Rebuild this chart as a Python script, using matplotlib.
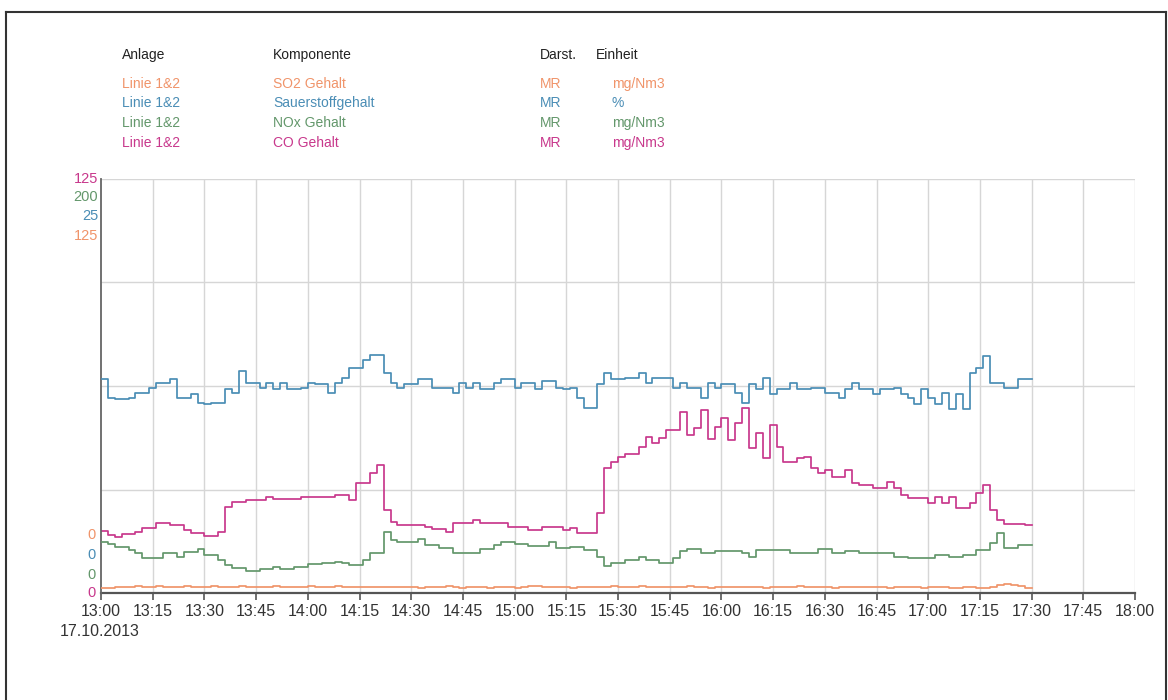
import numpy as np
import matplotlib
matplotlib.use("Agg")
import matplotlib.pyplot as plt
from matplotlib.lines import Line2D

plt.rcParams['font.family'] = ['Liberation Sans', 'DejaVu Sans']

# ---- time axis: minutes after 13:00, one reading every 2 minutes ----
minutes = np.arange(0, 271, 2)
tick_minutes = list(range(0, 301, 15))
tick_labels = ["13:00", "13:15", "13:30", "13:45", "14:00", "14:15", "14:30",
               "14:45", "15:00", "15:15", "15:30", "15:45", "16:00", "16:15",
               "16:30", "16:45", "17:00", "17:15", "17:30", "17:45", "18:00"]
date_label = "17.10.2013"

# ---- series ----
names = ["SO2 Gehalt", "Sauerstoffgehalt", "NOx Gehalt", "CO Gehalt"]
units = ["mg/Nm3", "%", "mg/Nm3", "mg/Nm3"]
scale_max = [125, 25, 200, 125]

so2 = [1.5, 1.5, 1.8, 1.8, 1.8, 2.2, 1.8, 1.8, 2.2, 1.8,
       1.8, 1.8, 2.2, 1.8, 1.8, 1.8, 2.2, 1.8, 1.8, 1.8,
       2.2, 1.8, 1.8, 1.8, 1.8, 2.2, 1.8, 1.8, 1.8, 1.8,
       2.2, 1.8, 1.8, 1.8, 2.2, 1.8, 1.8, 1.8, 1.8, 1.8,
       1.8, 1.8, 1.8, 1.8, 1.8, 1.8, 1.5, 1.8, 1.8, 1.8,
       2.2, 1.8, 1.5, 1.8, 1.8, 1.8, 1.5, 1.8, 1.8, 1.8,
       1.5, 1.8, 2.0, 2.0, 1.8, 1.8, 1.8, 1.8, 1.5, 1.8,
       1.8, 1.8, 1.8, 1.8, 2.2, 1.8, 1.8, 1.8, 2.2, 1.8,
       1.8, 1.8, 1.8, 1.8, 1.8, 2.2, 1.8, 1.8, 1.5, 1.8,
       1.8, 1.8, 1.8, 1.8, 1.8, 1.8, 1.5, 1.8, 1.8, 1.8,
       1.8, 2.0, 1.8, 1.8, 1.8, 1.8, 1.5, 1.8, 1.8, 1.8,
       1.8, 1.8, 1.8, 1.8, 1.5, 1.8, 1.8, 1.8, 1.8, 1.5,
       1.8, 1.8, 1.8, 1.5, 1.5, 1.8, 1.8, 1.5, 1.5, 1.8,
       2.4, 2.8, 2.4, 2.0, 1.5, 1.5]

o2 = [12.9, 11.8, 11.7, 11.7, 11.8, 12.1, 12.1, 12.4, 12.7, 12.7,
      12.9, 11.8, 11.8, 12.0, 11.5, 11.4, 11.5, 11.5, 12.3, 12.1,
      13.4, 12.7, 12.7, 12.4, 12.7, 12.3, 12.7, 12.3, 12.3, 12.4,
      12.7, 12.6, 12.6, 12.1, 12.7, 13.0, 13.6, 13.6, 14.1, 14.4,
      14.4, 13.3, 12.7, 12.4, 12.6, 12.6, 12.9, 12.9, 12.4, 12.4,
      12.4, 12.1, 12.7, 12.4, 12.7, 12.3, 12.3, 12.7, 12.9, 12.9,
      12.4, 12.7, 12.7, 12.3, 12.8, 12.8, 12.4, 12.3, 12.4, 11.8,
      11.2, 11.2, 12.6, 13.3, 12.9, 12.9, 13.0, 13.0, 13.3, 12.7,
      13.0, 13.0, 13.0, 12.4, 12.7, 12.4, 12.4, 11.8, 12.7, 12.4,
      12.6, 12.6, 12.1, 11.5, 12.6, 12.3, 13.0, 12.0, 12.3, 12.3,
      12.7, 12.3, 12.3, 12.4, 12.4, 12.1, 12.1, 11.8, 12.3, 12.7,
      12.3, 12.3, 12.0, 12.3, 12.3, 12.4, 12.0, 11.8, 11.4, 12.3,
      11.8, 11.4, 12.1, 11.1, 12.0, 11.1, 13.3, 13.6, 14.3, 12.7,
      12.7, 12.4, 12.4, 12.9, 12.9, 12.9]

nox = [24.8, 23.7, 22.1, 22.1, 20.8, 19.2, 16.8, 16.8, 16.8, 19.2,
       19.2, 17.5, 19.7, 19.7, 21.1, 18.4, 18.4, 15.9, 13.5, 11.9,
       11.9, 10.6, 10.6, 11.4, 11.4, 12.7, 11.4, 11.4, 12.7, 12.7,
       13.9, 13.9, 14.6, 14.6, 15.1, 14.6, 13.5, 13.5, 15.9, 19.2,
       19.2, 29.6, 25.6, 24.8, 24.8, 24.8, 25.9, 23.2, 23.2, 21.6,
       21.6, 19.5, 19.5, 19.5, 19.5, 21.1, 21.1, 23.2, 24.8, 24.8,
       23.7, 23.7, 22.7, 22.7, 22.7, 24.8, 21.6, 21.6, 22.1, 22.1,
       20.8, 20.8, 17.5, 13.0, 14.6, 14.6, 15.9, 15.9, 17.5, 15.9,
       15.9, 14.6, 14.6, 16.8, 20.4, 21.1, 21.1, 19.2, 19.2, 20.4,
       20.4, 20.4, 20.4, 19.3, 17.5, 20.8, 20.8, 20.8, 20.8, 20.8,
       19.2, 19.2, 19.2, 19.2, 21.1, 21.1, 19.5, 19.5, 20.4, 20.4,
       19.5, 19.5, 19.5, 19.5, 19.5, 17.5, 17.5, 16.8, 16.8, 16.8,
       16.8, 18.4, 18.4, 17.5, 17.5, 18.4, 18.4, 20.8, 20.8, 24.0,
       28.8, 21.6, 21.6, 23.2, 23.2, 23.2]

co = [18.8, 17.5, 17.0, 17.8, 17.8, 18.5, 19.6, 19.6, 21.0, 21.0,
      20.5, 20.5, 19.0, 18.1, 18.1, 17.3, 17.3, 18.5, 26.1, 27.6,
      27.6, 28.1, 28.1, 28.1, 29.1, 28.4, 28.4, 28.4, 28.4, 29.1,
      29.1, 29.1, 29.1, 29.1, 29.6, 29.6, 28.1, 33.1, 33.1, 36.1,
      38.6, 25.1, 21.5, 20.5, 20.5, 20.5, 20.5, 20.0, 19.2, 19.2,
      18.5, 21.2, 21.2, 21.2, 22.0, 21.0, 21.0, 21.0, 21.0, 20.0,
      20.0, 20.0, 19.0, 19.0, 19.8, 19.8, 19.8, 19.0, 19.5, 18.2,
      18.2, 18.2, 24.1, 37.6, 39.6, 41.1, 41.9, 41.9, 44.2, 47.2,
      45.2, 46.7, 49.2, 49.2, 54.7, 47.7, 49.7, 55.2, 46.4, 50.2,
      52.7, 46.2, 51.2, 55.8, 43.7, 48.2, 40.7, 50.7, 44.2, 39.6,
      39.6, 40.7, 41.1, 37.6, 36.1, 37.1, 35.1, 35.1, 37.1, 33.1,
      32.6, 32.6, 31.6, 31.6, 33.6, 31.6, 29.6, 28.6, 28.6, 28.6,
      27.1, 29.1, 27.1, 29.1, 25.6, 25.6, 27.1, 30.1, 32.6, 25.1,
      22.0, 20.8, 20.8, 20.8, 20.5, 20.5]

series = [so2, o2, nox, co]
colors = ["#f0946a", "#4a8db5", "#63976b", "#c8388c"]

W, H = 1168, 700
fig = plt.figure(figsize=(W / 100, H / 100), dpi=100)
fig.patch.set_facecolor("white")


def fx(px):
    return px / W


def fy(py):
    return 1 - py / H


# plot area
x0, x1, ytop, ybot = 101, 1135, 179, 593
ax = fig.add_axes([fx(x0), fy(ybot), fx(x1 - x0), (ybot - ytop) / H])
ax.set_xlim(0, 300)

# one y-scale per component, all sharing the same plot area
axes = []
for i in range(3):
    a = ax.twinx()
    for s in a.spines.values():
        s.set_visible(False)
    a.tick_params(left=False, right=False, labelleft=False, labelright=False)
    axes.append(a)
axes.append(ax)

ax.set_ylim(0, scale_max[3])
ax.set_yticks(np.linspace(0, scale_max[3], 5))
ax.tick_params(axis="y", left=False, right=False, labelleft=False, labelright=False)
ax.grid(True, axis="y", color="#d6d6d6", lw=1)
for m in tick_minutes[1:]:
    ax.axvline(m, color="#d6d6d6", lw=1, zorder=0)
ax.set_xticks(tick_minutes)
ax.set_xticklabels(tick_labels, fontsize=11.5, color="#333333")
ax.tick_params(axis="x", direction="out", length=5, width=1.2, color="#555555", pad=3)
for s in ["top", "right"]:
    ax.spines[s].set_visible(False)
ax.spines["bottom"].set_color("#555555")
ax.spines["bottom"].set_linewidth(1.6)
ax.spines["left"].set_color("#666666")
ax.spines["left"].set_linewidth(1.3)
ax.spines["left"].set_zorder(5)

for a, vals, vmax, c in zip(axes, series, scale_max, colors):
    a.set_ylim(0, vmax)
    a.plot(minutes, vals, drawstyle="steps-post", color=c, lw=1.25)

# staggered scale labels on the left
top_pos = [0.862, 0.911, 0.957, 1.0]
bot_pos = [0.140, 0.092, 0.043, 0.0]
for vmax, c, tp, bp in zip(scale_max, colors, top_pos, bot_pos):
    ax.annotate(str(vmax), xy=(0, tp), xycoords="axes fraction",
                xytext=(-2, 0), textcoords="offset points",
                ha="right", va="center", fontsize=10.5, color=c)
    ax.annotate("0", xy=(0, bp), xycoords="axes fraction",
                xytext=(-4, 0), textcoords="offset points",
                ha="right", va="center", fontsize=10.5, color=c)

fig.text(fx(60), fy(632), date_label, fontsize=11.5, color="#333333",
         ha="left", va="center")

# header table
fs = 10
hdr_y = 55
row_y = [84, 103, 123, 143]
cols = [122, 273, 540, 596]
for x, t in zip(cols, ["Anlage", "Komponente", "Darst.", "Einheit"]):
    fig.text(fx(x), fy(hdr_y), t, fontsize=fs, color="#222222",
             ha="left", va="center")
for y, name, unit, c in zip(row_y, names, units, colors):
    fig.text(fx(cols[0]), fy(y), "Linie 1&2", fontsize=fs, color=c, ha="left", va="center")
    fig.text(fx(cols[1]), fy(y), name, fontsize=fs, color=c, ha="left", va="center")
    fig.text(fx(cols[2]), fy(y), "MR", fontsize=fs, color=c, ha="left", va="center")
    fig.text(fx(612), fy(y), unit, fontsize=fs, color=c, ha="left", va="center")

# page frame
frame = dict(color="#333333", lw=1.5, transform=fig.transFigure)
fig.add_artist(Line2D([fx(6), fx(1166)], [fy(12), fy(12)], **frame))
fig.add_artist(Line2D([fx(6), fx(6)], [fy(12), fy(700)], **frame))
fig.add_artist(Line2D([fx(1166), fx(1166)], [fy(12), fy(700)], **frame))

fig.savefig("out.png", dpi=100, facecolor="white")
